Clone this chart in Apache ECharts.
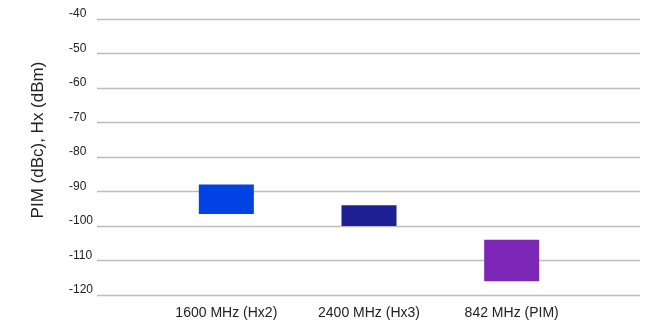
<!DOCTYPE html>
<html>
<head>
<meta charset="utf-8">
<script src="https://cdn.jsdelivr.net/npm/echarts@6/dist/echarts.min.js"></script>
<style>
  html, body { margin: 0; padding: 0; background: #fff; }
  #chart { width: 665px; height: 333px; }
</style>
</head>
<body>
<div id="chart"></div>
<script>
// Measured ranges per signal
const categories = ['1600 MHz (Hx2)', '2400 MHz (Hx3)', '842 MHz (PIM)'];
const lowValues = [-96.5, -100, -116];
const highValues = [-88, -94, -104];
const barColors = ['#0042E4', '#1F1F94', '#7C27B6'];
const yTicks = { min: -120, max: -40, interval: 10 };

const chart = echarts.init(document.getElementById('chart'));

const spans = highValues.map((h, i) => h - lowValues[i]);

const font = 'Liberation Sans, Arial, Helvetica, sans-serif';

chart.setOption({
  animation: false,
  grid: [
    { left: 97, right: 25, top: 19, bottom: 38 },
    { left: 155, right: 82, top: 19, bottom: 38 }
  ],
  xAxis: [
    { type: 'category', gridIndex: 0, data: categories, show: false },
    {
      type: 'category', gridIndex: 1, data: categories,
      axisLine: { show: false }, axisTick: { show: false },
      axisLabel: { color: '#222', fontSize: 14, fontFamily: font, margin: 11 }
    }
  ],
  yAxis: [
    {
      type: 'value', gridIndex: 0,
      min: yTicks.min, max: yTicks.max, interval: yTicks.interval,
      name: 'PIM (dBc), Hx (dBm)',
      nameLocation: 'middle', nameGap: 50, nameRotate: 90,
      nameTextStyle: { color: '#222', fontSize: 17, fontFamily: font, padding: [0, 0, 0, 34] },
      axisLine: { show: false }, axisTick: { show: false },
      axisLabel: {
        color: '#222', fontSize: 12, fontFamily: font, margin: 28,
        align: 'left', verticalAlign: 'bottom', lineHeight: 10
      },
      splitLine: { lineStyle: { color: '#bdbdbd', width: 1.3 } }
    },
    {
      type: 'value', gridIndex: 1,
      min: yTicks.min, max: yTicks.max, interval: yTicks.interval,
      show: false
    }
  ],
  series: [
    {
      type: 'bar', xAxisIndex: 1, yAxisIndex: 1,
      stack: 'range', stackStrategy: 'all',
      data: lowValues,
      barWidth: 55,
      itemStyle: { color: 'transparent' },
      silent: true
    },
    {
      type: 'bar', xAxisIndex: 1, yAxisIndex: 1,
      stack: 'range', stackStrategy: 'all',
      data: spans.map((v, i) => ({ value: v, itemStyle: { color: barColors[i] } })),
      barWidth: 55
    }
  ]
});
</script>
</body>
</html>
